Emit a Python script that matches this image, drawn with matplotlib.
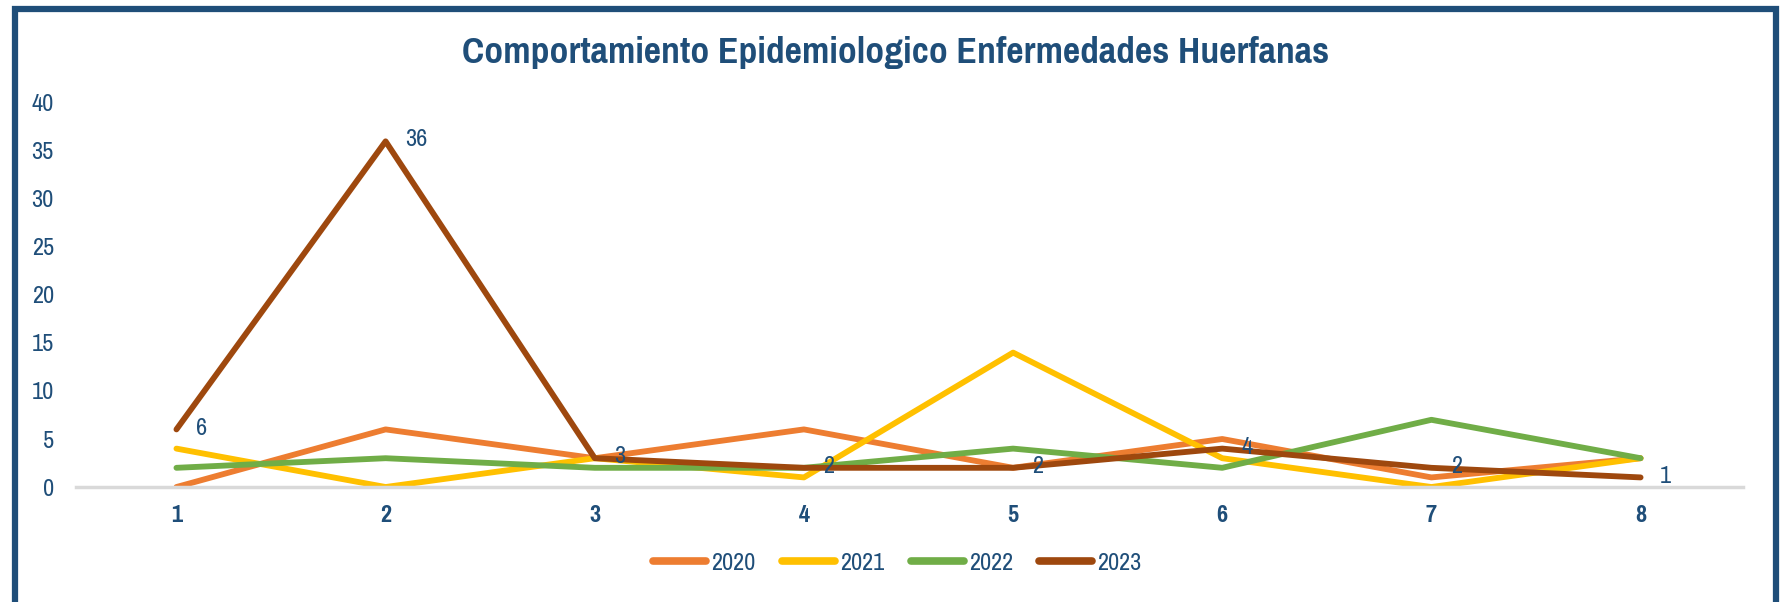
import matplotlib.pyplot as plt
from matplotlib.patches import Rectangle

# data
meses = [1, 2, 3, 4, 5, 6, 7, 8]
casos_2020 = [0, 6, 3, 6, 2, 5, 1, 3]
casos_2021 = [4, 0, 3, 1, 14, 3, 0, 3]
casos_2022 = [2, 3, 2, 2, 4, 2, 7, 3]
casos_2023 = [6, 36, 3, 2, 2, 4, 2, 1]
y_ticks = [0, 5, 10, 15, 20, 25, 30, 35, 40]

azul = '#1f4e79'
plt.rcParams['font.family'] = ['Pragati Narrow', 'Fira Sans Condensed', 'DejaVu Sans']

fig = plt.figure(figsize=(17.81, 6.02), dpi=100)
ax = fig.add_axes([0.0427, 0.191, 0.936, 0.638])

series = [('2020', casos_2020, '#ed7d31'),
          ('2021', casos_2021, '#ffc000'),
          ('2022', casos_2022, '#70ad47'),
          ('2023', casos_2023, '#9e480e')]
for name, vals, col in series:
    ax.plot(meses, vals, color=col, lw=4.2, label=name, solid_capstyle='round')

# data labels only on 2023
for x, v in zip(meses, casos_2023):
    ax.annotate(str(v), (x, v), xytext=(14, 1), textcoords='offset points',
                ha='left', va='center', fontsize=19, color=azul)

ax.set_xlim(0.52, 8.49)
ax.set_ylim(0, 40)
ax.set_xticks(meses)
ax.set_xticklabels([str(m) for m in meses], fontweight='bold')
ax.set_yticks(y_ticks)
ax.tick_params(axis='both', length=0, labelsize=19, labelcolor=azul)
ax.tick_params(axis='y', pad=16)
ax.tick_params(axis='x', pad=13)
for s in ['left', 'right', 'top']:
    ax.spines[s].set_visible(False)
ax.spines['bottom'].set_color('#d9d9d9')
ax.spines['bottom'].set_linewidth(2.5)

fig.text(0.503, 0.912, 'Comportamiento Epidemiologico Enfermedades Huerfanas',
         ha='center', va='center', fontsize=29.5, fontweight='bold', color=azul)

leg = fig.legend(loc='center', bbox_to_anchor=(0.504, 0.065), ncol=4, frameon=False,
                 fontsize=19, labelcolor=azul, handlelength=2.0, handletextpad=0.2,
                 columnspacing=1.0)
for h in leg.get_lines():
    h.set_linewidth(5.5)

# dark blue frame around the chart (open at the bottom)
fig.patches.append(Rectangle((15 / 1781, -0.05), 1761 / 1781, 1 - 9 / 602 + 0.05,
                             transform=fig.transFigure, fill=False,
                             edgecolor=azul, lw=4.5))

fig.savefig('out.png', dpi=100)
